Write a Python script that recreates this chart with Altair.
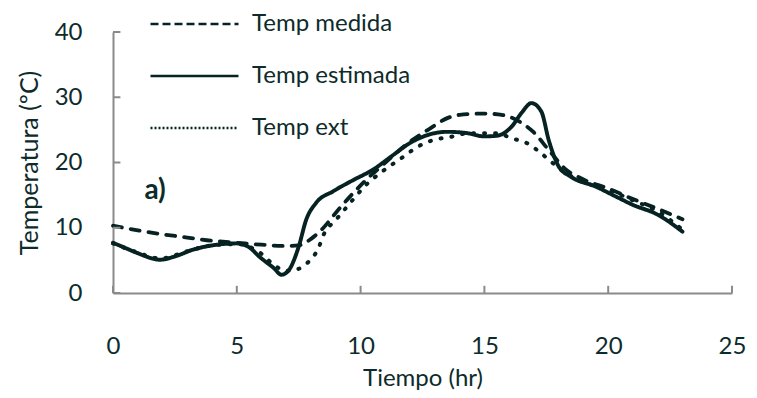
import altair as alt
import pandas as pd

# ---------------- data ----------------
series_names = ["Temp medida", "Temp estimada", "Temp ext"]

medida_hr = [0, 1, 2, 3, 4, 5, 6, 7, 7.5, 8, 8.5, 9, 10, 11, 12, 12.8, 13.5, 14, 15,
             15.7, 16.4, 17, 17.6, 18.3, 19, 20, 21, 22, 23]
medida_temp = [10.3, 9.6, 9.0, 8.5, 8.0, 7.7, 7.4, 7.2, 7.3, 8.3, 10.0, 12.3, 16.5, 20.0,
               23.2, 25.2, 26.8, 27.3, 27.5, 27.3, 26.3, 24.6, 21.9, 18.9, 17.4, 16.0,
               14.4, 12.9, 11.3]

estimada_hr = [0, 0.5, 1, 1.9, 2.5, 3.2, 4.2, 5, 5.5, 5.9, 6.5, 6.8, 7.1, 7.5, 7.8, 8.2,
               8.9, 9.7, 10.5, 11.3, 12, 12.7, 13.5, 14.3, 15, 15.5, 16.1, 16.5, 16.9,
               17.3, 17.6, 18, 18.5, 19.5, 20.3, 21, 22, 23]
estimada_temp = [7.7, 6.9, 6.1, 5.1, 5.6, 6.6, 7.4, 7.6, 7.0, 5.6, 3.8, 2.8, 3.5, 7.1,
                 11.2, 13.8, 15.6, 17.3, 18.9, 21.1, 23.0, 24.2, 24.7, 24.5, 24.0, 24.1,
                 25.5, 27.6, 29.1, 27.8, 23.4, 19.4, 17.8, 16.3, 14.8, 13.5, 12.0, 9.4]

ext_hr = [0, 1, 1.9, 3, 4, 5, 6, 6.5, 7, 7.3, 7.9, 8.3, 8.5, 9, 9.4, 9.8, 10.2, 10.8,
          11.7, 12.3, 12.9, 13.6, 14.4, 15.1, 15.5, 16.1, 16.7, 17.2, 17.7, 18.2, 19,
          20, 21, 22, 23]
ext_temp = [7.6, 6.2, 5.3, 6.4, 7.3, 7.5, 6.0, 4.3, 3.4, 3.5, 4.8, 6.9, 8.9, 11.2, 13.0,
            14.8, 16.5, 18.4, 20.8, 22.4, 23.4, 23.9, 24.5, 24.5, 24.5, 23.7, 23.0, 21.7,
            20.1, 18.6, 17.0, 15.8, 14.2, 12.5, 9.7]

x_ticks = [0, 5, 10, 15, 20, 25]
y_ticks = [0, 10, 20, 30, 40]

annotation_text = ["a)"]
annotation_hr = [1.7]
annotation_temp = [15.7]

# ---------------- style ----------------
LINE = "#072222"
TEXT = "#0d2b2b"
AXIS = "#8a8a8a"
FONT = "Lato"
TICK_LEN_X = 1.1   # inward tick length, in temperature units
TICK_LEN_Y = 0.3   # inward tick length, in hour units

rows = []
for name, hs, ts in zip(series_names,
                        [medida_hr, estimada_hr, ext_hr],
                        [medida_temp, estimada_temp, ext_temp]):
    for h, t in zip(hs, ts):
        rows.append({"serie": name, "hora": h, "temp": t})
df = pd.DataFrame(rows)

x_scale = alt.Scale(domain=[0, 25], nice=False, zero=False)
y_scale = alt.Scale(domain=[0, 40], nice=False, zero=False)

x_axis = alt.Axis(values=x_ticks, title="Tiempo (hr)", grid=False,
                  ticks=False, domainColor=AXIS, domainWidth=2,
                  labelFont=FONT, labelFontSize=24, labelColor=TEXT,
                  labelPadding=41, titleFont=FONT, titleFontSize=24,
                  titleFontWeight="normal", titleColor=TEXT,
                  titlePadding=8, labelFlush=False)
y_axis = alt.Axis(values=y_ticks, title="Temperatura (ºC)", grid=False,
                  ticks=False, domainColor=AXIS, domainWidth=2,
                  labelFont=FONT, labelFontSize=24, labelColor=TEXT,
                  labelPadding=31, titleFont=FONT, titleFontSize=25,
                  titleFontWeight="normal", titleColor=TEXT,
                  titlePadding=12)

# plotted curves (no legend of their own)
lines = alt.Chart(df).mark_line(
    strokeCap="round", strokeJoin="round",
    interpolate="monotone", color=LINE
).encode(
    x=alt.X("hora:Q", scale=x_scale, axis=x_axis),
    y=alt.Y("temp:Q", scale=y_scale, axis=y_axis),
    strokeDash=alt.StrokeDash(
        "serie:N",
        scale=alt.Scale(domain=series_names,
                        range=[[9, 9], [1, 0], [1, 10]]),
        legend=None,
    ),
    strokeWidth=alt.StrokeWidth(
        "serie:N",
        scale=alt.Scale(domain=series_names, range=[3.8, 4.0, 5.0]),
        legend=None,
    ),
)

# legend-only layer: same series, no drawable points
legend_df = pd.DataFrame({"serie": series_names,
                          "hora": [None] * len(series_names),
                          "temp": [None] * len(series_names)})
legend_layer = alt.Chart(legend_df).mark_line(color=LINE).encode(
    x=alt.X("hora:Q", scale=x_scale, axis=x_axis),
    y=alt.Y("temp:Q", scale=y_scale, axis=y_axis),
    strokeDash=alt.StrokeDash(
        "serie:N",
        scale=alt.Scale(domain=series_names,
                        range=[[8, 4], [1, 0], [2, 2]]),
        legend=alt.Legend(
            title=None, orient="none", legendX=36, legendY=-20,
            symbolType="stroke", symbolSize=7744, symbolStrokeWidth=2.5,
            symbolStrokeColor=LINE, labelFont=FONT, labelFontSize=24,
            labelColor=TEXT, labelOffset=12, rowPadding=28, clipHeight=24,
            padding=0, symbolOffset=0, labelLimit=400,
        ),
    ),
)

tick_x_df = pd.DataFrame({"hora": x_ticks,
                          "t0": [0] * len(x_ticks),
                          "t1": [TICK_LEN_X] * len(x_ticks)})
tick_y_df = pd.DataFrame({"temp": y_ticks,
                          "h0": [0] * len(y_ticks),
                          "h1": [TICK_LEN_Y] * len(y_ticks)})

x_tick_rules = alt.Chart(tick_x_df).mark_rule(color=AXIS, strokeWidth=2).encode(
    x=alt.X("hora:Q", scale=x_scale, axis=x_axis),
    y=alt.Y("t0:Q", scale=y_scale, axis=y_axis),
    y2="t1:Q",
)
y_tick_rules = alt.Chart(tick_y_df).mark_rule(color=AXIS, strokeWidth=2).encode(
    y=alt.Y("temp:Q", scale=y_scale, axis=y_axis),
    x=alt.X("h0:Q", scale=x_scale, axis=x_axis),
    x2="h1:Q",
)

ann_df = pd.DataFrame({"hora": annotation_hr, "temp": annotation_temp,
                       "txt": annotation_text})
ann = alt.Chart(ann_df).mark_text(
    font=FONT, fontSize=28, fontWeight="bold", color=TEXT,
    align="center", baseline="middle"
).encode(
    x=alt.X("hora:Q", scale=x_scale, axis=x_axis),
    y=alt.Y("temp:Q", scale=y_scale, axis=y_axis),
    text="txt:N",
)

chart = alt.layer(lines, legend_layer, x_tick_rules, y_tick_rules, ann).resolve_scale(
    strokeDash="independent"
).properties(
    width=619, height=261,
    autosize=alt.AutoSizeParams(type="none"),
    padding={"left": 113, "top": 32, "right": 25, "bottom": 105},
    background="white",
).configure_view(stroke=None)

chart.save("out.html", embed_options={"renderer": "svg", "actions": False})
